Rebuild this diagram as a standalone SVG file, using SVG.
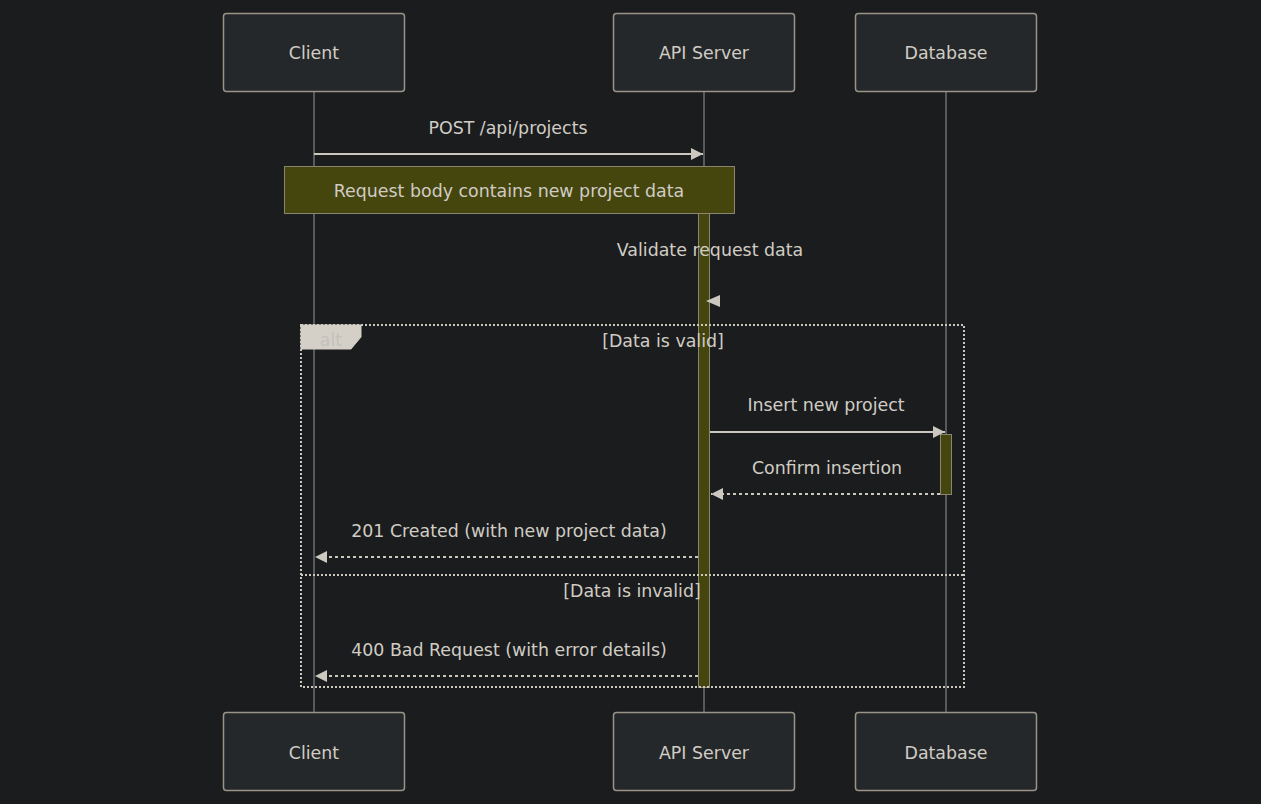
<svg xmlns="http://www.w3.org/2000/svg" width="1261" height="804" viewBox="0 0 1261 804">
<defs>
<style>
text{font-family:"DejaVu Sans","Noto Sans",sans-serif;font-size:17.4px;fill:#d0ccc4;text-anchor:middle;dominant-baseline:central}
.actor{fill:#25282a;stroke:#9a9488;stroke-width:1.5}
.life{stroke:#555a5e;stroke-width:2}
.msg{stroke:#ccc8c0;stroke-width:2;fill:none}
.dash{stroke-dasharray:3,3}
.act{fill:#45450e;stroke:#8a8570;stroke-width:1}
.loop{fill:none;stroke:#ccc8c0;stroke-width:2;stroke-dasharray:2,2}
</style>
<marker id="ah" viewBox="0 0 12 12" refX="12" refY="6" markerWidth="12" markerHeight="12" markerUnits="userSpaceOnUse" orient="auto">
<path d="M0,0 L12,6 L0,12 z" fill="#ccc8c0"/>
</marker>
</defs>
<rect width="1261" height="804" fill="#1b1c1e"/>
<g id="lifelines">
<line class="life" x1="314" y1="91" x2="314" y2="712"/>
<line class="life" x1="704" y1="91" x2="704" y2="712"/>
<line class="life" x1="946" y1="91" x2="946" y2="712"/>
</g>
<g id="actor-client-top"><rect class="actor" x="223.5" y="13.5" width="181" height="78" rx="3"/><text x="314" y="53">Client</text></g>
<g id="actor-api-top"><rect class="actor" x="613.5" y="13.5" width="181" height="78" rx="3"/><text x="704" y="53">API Server</text></g>
<g id="actor-db-top"><rect class="actor" x="855.5" y="13.5" width="181" height="78" rx="3"/><text x="946" y="53">Database</text></g>
<g id="actor-client-bottom"><rect class="actor" x="223.5" y="712.5" width="181" height="78" rx="3"/><text x="314" y="753">Client</text></g>
<g id="actor-api-bottom"><rect class="actor" x="613.5" y="712.5" width="181" height="78" rx="3"/><text x="704" y="753">API Server</text></g>
<g id="actor-db-bottom"><rect class="actor" x="855.5" y="712.5" width="181" height="78" rx="3"/><text x="946" y="753">Database</text></g>
<g id="activations">
<rect class="act" x="698.5" y="213.5" width="11" height="474"/>
<rect class="act" x="940.5" y="434.5" width="11" height="60"/>
</g>
<g id="note"><rect class="act" x="284.5" y="166.5" width="450" height="47"/><text x="509" y="191">Request body contains new project data</text></g>
<g id="alt-frame">
<rect class="loop" x="301" y="325" width="663" height="362"/>
<path d="M301,325 L361,325 L361,337 L351,349 L301,349 z" fill="#d4d0c8" stroke="#d4d0c8"/>
<text x="331" y="340" style="fill:#c4c0b8">alt</text>
<text x="663" y="341">[Data is valid]</text>
<line class="loop" x1="301" y1="575" x2="964" y2="575"/>
<text x="632" y="591">[Data is invalid]</text>
</g>
<g id="connectors">
<line class="msg" x1="314" y1="154" x2="703" y2="154" marker-end="url(#ah)"/>
<text x="508" y="128">POST /api/projects</text>
<text x="710" y="250">Validate request data</text>
<path d="M720,295 L706,301 L720,307 z" fill="#ccc8c0"/>
<line class="msg" x1="710" y1="432" x2="945" y2="432" marker-end="url(#ah)"/>
<text x="826" y="405">Insert new project</text>
<line class="msg dash" x1="940" y1="494" x2="711" y2="494" marker-end="url(#ah)"/>
<text x="827" y="468">Confirm insertion</text>
<line class="msg dash" x1="698" y1="557" x2="315" y2="557" marker-end="url(#ah)"/>
<text x="509" y="531">201 Created (with new project data)</text>
<line class="msg dash" x1="698" y1="676" x2="315" y2="676" marker-end="url(#ah)"/>
<text x="509" y="650">400 Bad Request (with error details)</text>
</g>
</svg>
